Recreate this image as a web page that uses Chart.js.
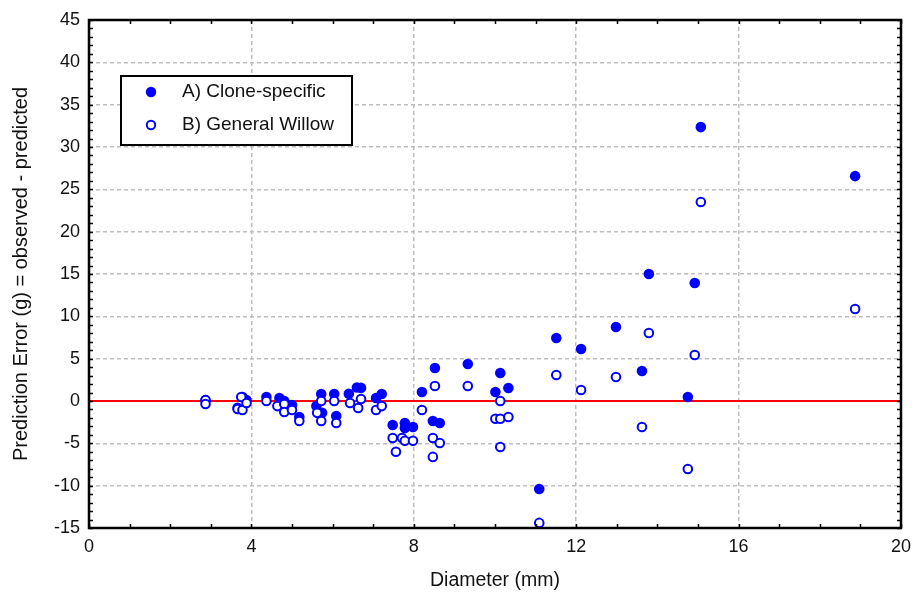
<!DOCTYPE html>
<html>
<head>
<meta charset="utf-8">
<title>Prediction error vs diameter</title>
<script src="https://cdn.jsdelivr.net/npm/chart.js@4.4.1/dist/chart.umd.min.js"></script>
<style>
  html, body { margin: 0; padding: 0; background: #fff; }
  #chart { display: block; }
</style>
</head>
<body>
<canvas id="chart" width="919" height="600"></canvas>
<script>
// A) clone-specific model: diameter (mm) and prediction error (g)
const cloneDiameter = [2.87, 3.66, 3.78, 3.88, 4.37, 4.69, 4.81, 5.0, 5.18, 5.6,
  5.72, 5.74, 6.04, 6.09, 6.4, 6.6, 6.7, 7.07, 7.21, 7.48,
  7.78, 7.78, 7.98, 8.2, 8.47, 8.52, 8.64, 9.33, 10.01, 10.13,
  10.33, 11.09, 11.51, 12.12, 12.98, 13.62, 13.79, 14.75, 14.92, 15.07,
  18.87];
const cloneError = [0.1, -0.8, 0.47, 0.1, 0.47, 0.35, 0.0, -0.47, -1.89, -0.6,
  0.83, -1.4, 0.83, -1.77, 0.85, 1.6, 1.55, 0.35, 0.83, -2.83,
  -2.6, -3.2, -3.07, 1.06, -2.36, 3.9, -2.6, 4.37, 1.06, 3.31,
  1.53, -10.39, 7.44, 6.14, 8.74, 3.54, 15.0, 0.47, 13.93, 32.35,
  26.56];

// B) general willow model
const willowDiameter = [2.87, 2.87, 3.66, 3.75, 3.78, 3.88, 4.37, 4.64, 4.81, 4.81,
  5.0, 5.18, 5.62, 5.72, 5.72, 6.04, 6.09, 6.43, 6.63, 6.7,
  7.07, 7.21, 7.48, 7.56, 7.71, 7.78, 7.98, 8.2, 8.47, 8.47,
  8.52, 8.64, 9.33, 10.01, 10.13, 10.13, 10.13, 10.33, 11.09, 11.51,
  12.12, 12.98, 13.62, 13.79, 14.75, 14.92, 15.07, 18.87];
const willowError = [0.1, -0.35, -0.94, 0.47, -1.06, -0.24, 0.0, -0.6, -0.35, -1.3,
  -1.06, -2.36, -1.4, 0.0, -2.36, 0.0, -2.6, -0.24, -0.83, 0.24,
  -1.06, -0.6, -4.37, -6.0, -4.37, -4.7, -4.7, -1.06, -4.37, -6.6,
  1.77, -4.96, 1.77, -2.1, 0.0, -2.1, -5.43, -1.89, -14.4, 3.07,
  1.3, 2.83, -3.07, 8.03, -8.03, 5.43, 23.5, 10.86];

const seriesLabels = ["A) Clone-specific", "B) General Willow"];
const xTicks = [0, 4, 8, 12, 16, 20];
const yTicks = [-15, -10, -5, 0, 5, 10, 15, 20, 25, 30, 35, 40, 45];

const FONT = "'Liberation Sans', Arial, sans-serif";
const BLUE = "#0000ff";
const GRID = "#bebebe";

function toPoints(xs, ys) {
  return xs.map((x, i) => ({ x: x, y: ys[i] }));
}

// red zero line, under the points
const zeroLine = {
  id: "zeroLine",
  beforeDatasetsDraw(chart) {
    const { ctx, chartArea, scales } = chart;
    const y = scales.y.getPixelForValue(0);
    ctx.save();
    ctx.strokeStyle = "#ff0000";
    ctx.lineWidth = 2;
    ctx.beginPath();
    ctx.moveTo(chartArea.left, y);
    ctx.lineTo(chartArea.right, y);
    ctx.stroke();
    ctx.restore();
  }
};

// black frame with small inward ticks on all four sides
const frame = {
  id: "frame",
  afterDraw(chart) {
    const { ctx, chartArea, scales } = chart;
    const { left, right, top, bottom } = chartArea;
    ctx.save();
    ctx.strokeStyle = "#000";
    ctx.lineWidth = 1.5;
    ctx.beginPath();
    for (let v = 0; v <= 20; v++) {
      const x = Math.round(scales.x.getPixelForValue(v)) + 0.5;
      ctx.moveTo(x, bottom); ctx.lineTo(x, bottom - 4);
      ctx.moveTo(x, top); ctx.lineTo(x, top + 4);
    }
    for (let v = -15; v <= 45; v++) {
      const y = Math.round(scales.y.getPixelForValue(v)) + 0.5;
      ctx.moveTo(left, y); ctx.lineTo(left + 4, y);
      ctx.moveTo(right, y); ctx.lineTo(right - 4, y);
    }
    ctx.stroke();
    ctx.lineWidth = 2.5;
    ctx.strokeRect(left, top, right - left, bottom - top);
    ctx.restore();
  }
};

// legend box inside the plot, top left
const boxLegend = {
  id: "boxLegend",
  afterDraw(chart) {
    const { ctx } = chart;
    const bx = 121, by = 76, bw = 231, bh = 69;
    ctx.save();
    ctx.fillStyle = "#fff";
    ctx.fillRect(bx, by, bw, bh);
    ctx.strokeStyle = "#000";
    ctx.lineWidth = 2;
    ctx.strokeRect(bx, by, bw, bh);
    const rows = [
      { y: 92, filled: true },
      { y: 125, filled: false }
    ];
    rows.forEach((r, i) => {
      ctx.beginPath();
      if (r.filled) {
        ctx.arc(151, r.y, 5.2, 0, Math.PI * 2);
        ctx.fillStyle = BLUE;
        ctx.fill();
      } else {
        ctx.arc(151, r.y, 4.2, 0, Math.PI * 2);
        ctx.fillStyle = "#fff";
        ctx.fill();
        ctx.lineWidth = 2;
        ctx.strokeStyle = BLUE;
        ctx.stroke();
      }
      ctx.fillStyle = "#111";
      ctx.font = "19px " + FONT;
      ctx.textBaseline = "middle";
      ctx.fillText(seriesLabels[i], 182, r.y);
    });
    ctx.restore();
  }
};

const ctx = document.getElementById("chart").getContext("2d");
new Chart(ctx, {
  type: "scatter",
  data: {
    datasets: [
      {
        // drawn last, so the open circles sit on top
        label: seriesLabels[1],
        data: toPoints(willowDiameter, willowError),
        pointRadius: 4.3,
        pointBorderWidth: 2,
        pointBackgroundColor: "#fff",
        pointBorderColor: BLUE
      },
      {
        label: seriesLabels[0],
        data: toPoints(cloneDiameter, cloneError),
        pointRadius: 5.3,
        pointBorderWidth: 0,
        pointBackgroundColor: BLUE,
        pointBorderColor: BLUE
      }
    ]
  },
  options: {
    responsive: false,
    animation: false,
    devicePixelRatio: 1,
    layout: { padding: { top: 20, right: 14, left: 0, bottom: 0 } },
    plugins: {
      legend: { display: false },
      tooltip: { enabled: false }
    },
    scales: {
      x: {
        type: "linear",
        min: 0,
        max: 20,
        afterBuildTicks: (s) => { s.ticks = xTicks.map((v) => ({ value: v })); },
        afterFit: (s) => { s.height = 72; },
        border: { display: false, dash: [4, 3] },
        grid: {
          color: (c) => (c.tick && (c.tick.value === 0 || c.tick.value === 20)) ? "rgba(0,0,0,0)" : GRID,
          lineWidth: 1.5,
          drawTicks: false
        },
        ticks: {
          padding: 8,
          color: "#111",
          font: { family: FONT, size: 18 }
        },
        title: {
          display: true,
          text: "Diameter (mm)",
          color: "#111",
          font: { family: FONT, size: 19.5 },
          padding: { top: 0, bottom: 8 }
        }
      },
      y: {
        type: "linear",
        min: -15,
        max: 45,
        afterBuildTicks: (s) => { s.ticks = yTicks.map((v) => ({ value: v })); },
        afterFit: (s) => { s.width = 89; },
        border: { display: false, dash: [4, 3] },
        grid: {
          color: (c) => (c.tick && (c.tick.value === -15 || c.tick.value === 45)) ? "rgba(0,0,0,0)" : GRID,
          lineWidth: 1.5,
          drawTicks: false
        },
        ticks: {
          padding: 9,
          color: "#111",
          font: { family: FONT, size: 18 }
        },
        title: {
          display: true,
          text: "Prediction Error (g) = observed - predicted",
          color: "#111",
          font: { family: FONT, size: 20 },
          padding: { top: 9, bottom: 0 }
        }
      }
    }
  },
  plugins: [zeroLine, frame, boxLegend]
});
</script>
</body>
</html>
